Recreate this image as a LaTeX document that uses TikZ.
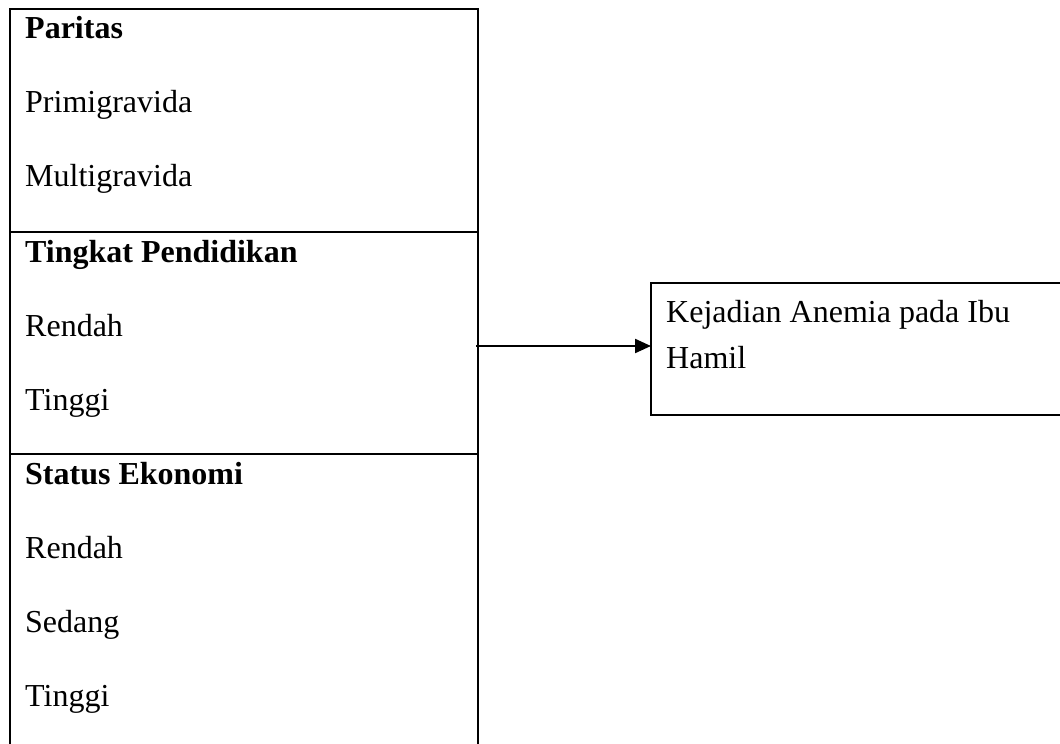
\documentclass[tikz,border=0pt]{standalone}
\usepackage{fontspec}
\setmainfont{Liberation Serif}
\usetikzlibrary{arrows.meta}
\begin{document}
\begin{tikzpicture}[x=1pt,y=1pt,
  frame/.style={draw, line width=2pt, inner sep=0pt, outer sep=0pt, anchor=north west},
  outbox/.style={draw, line width=1.6pt, inner sep=0pt, outer sep=0pt, anchor=north west},
  hdr/.style={anchor=base west, inner sep=0pt, font=\fontsize{32}{38}\selectfont\bfseries},
  item/.style={anchor=base west, inner sep=0pt, font=\fontsize{32}{38}\selectfont},
  conn/.style={line width=2.2pt, -{Triangle[length=16pt,width=14pt]}}
]
\useasboundingbox (0,0) rectangle (1060,-744);
\clip (0,0) rectangle (1060,-744);
% left box
\node[frame, minimum width=468pt, minimum height=780pt] (left) at (10,-9) {};
\coordinate (d1w) at (10,-232); \coordinate (d1e) at (478,-232);
\coordinate (d2w) at (10,-454); \coordinate (d2e) at (478,-454);
\draw[line width=2pt] (d1w) -- (d1e);
\draw[line width=2pt] (d2w) -- (d2e);
% texts
\node[hdr]  (par)  at (25,-38)  {Paritas};
\node[item] (prim) at (25,-112) {Primigravida};
\node[item] (mult) at (25,-186) {Multigravida};
\node[hdr]  (pend) at (25,-262) {Tingkat Pendidikan};
\node[item] (pr)   at (25,-336) {Rendah};
\node[item] (pt)   at (25,-410) {Tinggi};
\node[hdr]  (eko)  at (25,-484) {Status Ekonomi};
\node[item] (er)   at (25,-558) {Rendah};
\node[item] (es)   at (25,-632) {Sedang};
\node[item] (et)   at (25,-706) {Tinggi};
% outcome box
\node[outbox, minimum width=440pt, minimum height=132pt] (out) at (651,-283) {};
\node[item] (k1) at (666,-322) {Kejadian Anemia pada Ibu};
\node[item] (k2) at (666,-368) {Hamil};
% connector
\coordinate (start) at (476,-346);
\draw[conn] (start) -- (start -| out.west);
\end{tikzpicture}
\end{document}
